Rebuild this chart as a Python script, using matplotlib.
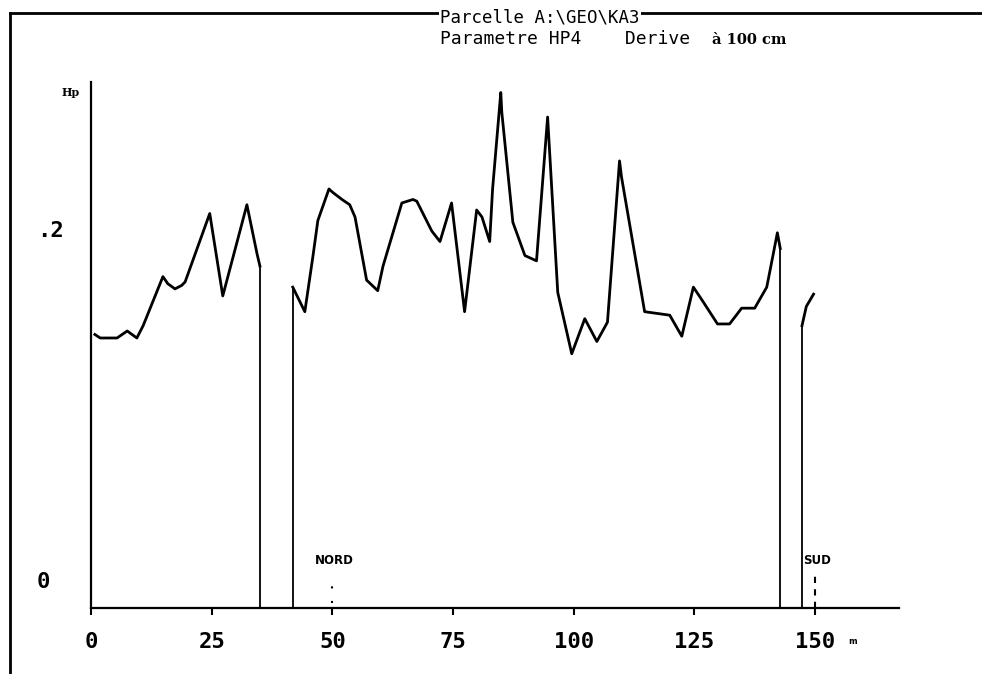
import matplotlib.pyplot as plt
from matplotlib.lines import Line2D
from matplotlib.transforms import ScaledTranslation

plt.rcParams['font.family'] = ['DejaVu Sans Mono']

# distance along the profile (m) and Hp, three stretches between the gaps
seg1_x = [0.8, 1.9, 5.4, 7.5, 8.5, 9.5, 10.8, 14.9, 15.9, 17.4, 18.8, 19.5,
          24.6, 27.3, 32.3, 34.4, 35.0]
seg1_y = [0.156, 0.154, 0.154, 0.158, 0.156, 0.154, 0.161, 0.189, 0.185, 0.182,
          0.184, 0.186, 0.225, 0.178, 0.230, 0.202, 0.195]

seg2_x = [41.8, 44.3, 46.0, 47.0, 49.3, 50.1, 52.0, 53.6, 54.7, 57.1, 59.4, 60.5,
          64.4, 66.7, 67.5, 70.6, 72.3, 74.7, 77.4, 79.9, 81.0, 82.6, 83.2, 84.9,
          85.1, 87.4, 89.9, 92.3, 94.6, 96.7, 99.6, 102.3, 104.8, 107.0, 109.5,
          109.9, 114.7, 119.9, 122.4, 124.8, 126.5, 129.8, 132.3, 134.8, 137.5,
          140.0, 141.0, 142.2, 142.8]
seg2_y = [0.183, 0.169, 0.201, 0.221, 0.239, 0.237, 0.233, 0.230, 0.223, 0.187,
          0.181, 0.195, 0.231, 0.233, 0.232, 0.215, 0.209, 0.231, 0.169, 0.227,
          0.223, 0.209, 0.239, 0.294, 0.283, 0.220, 0.201, 0.198, 0.280, 0.180,
          0.145, 0.165, 0.152, 0.163, 0.255, 0.246, 0.169, 0.167, 0.155, 0.183,
          0.176, 0.162, 0.162, 0.171, 0.171, 0.183, 0.197, 0.214, 0.205]

seg3_x = [147.3, 148.2, 149.7]
seg3_y = [0.161, 0.172, 0.179]

# vertical drops / rises at the gaps
gap_x = [35.0, 41.8, 142.8, 147.3]
gap_top = [0.195, 0.183, 0.205, 0.161]

marks_x = [50, 150]
marks_label = ['NORD', 'SUD']

xticks = [0, 25, 50, 75, 100, 125, 150]
yticks = [0, 0.2]
ytick_labels = ['0', '.2']

fig = plt.figure(figsize=(9.82, 6.74), dpi=100)
ax = fig.add_axes([91 / 982, 66 / 674, 808 / 982, 526 / 674])

for xs, ys in [(seg1_x, seg1_y), (seg2_x, seg2_y), (seg3_x, seg3_y)]:
    ax.plot(xs, ys, color='black', lw=2)
ax.vlines(gap_x, 0, gap_top, color='black', lw=1.3)

ax.set_xlim(0, 167.4)
ax.set_ylim(0, 0.3)
for s in ['top', 'right']:
    ax.spines[s].set_visible(False)
for s in ['left', 'bottom']:
    ax.spines[s].set_linewidth(1.6)

ax.set_xticks(xticks)
ax.set_xticklabels([str(t) for t in xticks], fontsize=16, fontweight='bold')
ax.tick_params(axis='x', length=5, width=1.5, pad=12)
ax.set_yticks([])

ytr = ax.get_yaxis_transform() + ScaledTranslation(0, 26 / 100, fig.dpi_scale_trans)
for v, lab in zip(yticks, ytick_labels):
    ax.text(-0.067, v, lab, transform=ytr, ha='left', va='center', fontsize=16,
            fontweight='bold')

# NORD / SUD markers
ax.vlines(marks_x[0], 0.003, 0.017, color='black', lw=1.5, linestyles=(0, (1, 6)))
ax.vlines(marks_x[1], 0.0, 0.019, color='black', lw=1.5, linestyles=(0, (3, 3)))
for xm, lab in zip(marks_x, marks_label):
    ax.text(xm + 0.5, 0.027, lab, ha='center', va='center', fontsize=8.5,
            fontweight='bold', family='DejaVu Sans')

fig.text(853 / 982, 1 - 641 / 674, 'm', fontsize=6, ha='center', va='center',
         family='DejaVu Sans', fontweight='bold')
fig.text(71 / 982, 1 - 92 / 674, 'Hp', fontsize=8, ha='center', va='center',
         family='DejaVu Serif', fontweight='bold')

# page frame
fig.add_artist(Line2D([10 / 982, 10 / 982], [0, 1 - 13 / 674], color='black', lw=2))
fig.add_artist(Line2D([10 / 982, 1], [1 - 13 / 674, 1 - 13 / 674], color='black', lw=2))

fig.text(440 / 982, 1 - 17 / 674, 'Parcelle A:\\GEO\\KA3', fontsize=12.5,
         ha='left', va='center',
         bbox=dict(facecolor='white', edgecolor='none', pad=1))
fig.text(440 / 982, 1 - 39 / 674, 'Parametre HP4    Derive', fontsize=13,
         ha='left', va='center')
fig.text(712 / 982, 1 - 40 / 674, 'à 100 cm', fontsize=10.5, ha='left', va='center',
         family='DejaVu Serif', fontweight='bold')

fig.savefig('out.png', dpi=100)
